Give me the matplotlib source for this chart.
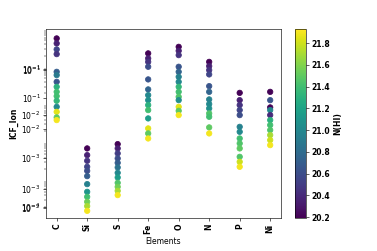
import numpy as np
import matplotlib
matplotlib.use('Agg')
import matplotlib.pyplot as plt
from matplotlib.ticker import FixedLocator, FixedFormatter, LogLocator, NullFormatter

# ── datos ────────────────────────────────────────────────────────────────────
elements = ['C', 'Si', 'S', 'Fe', 'O', 'N', 'P', 'Ni']

icf = {
    'C':  [0.567, 0.419, 0.290, 0.218, 0.0742, 0.0607, 0.0403, 0.0298, 0.0219,
           0.0169, 0.0127, 0.00880, 0.00649, 0.00461, 0.00392],
    'Si': [6.98e-4, 4.64e-4, 3.28e-4, 2.28e-4, 1.78e-4, 1.29e-4, 7.93e-5, 4.96e-5,
           3.66e-5, 2.70e-5, 2.08e-5, 1.56e-5],
    'S':  [9.07e-4, 6.98e-4, 5.15e-4, 3.79e-4, 2.90e-4, 2.19e-4, 1.58e-4, 1.19e-4,
           8.59e-5, 6.73e-5, 5.27e-5, 4.06e-5],
    'Fe': [0.228, 0.168, 0.136, 0.101, 0.0467, 0.0254, 0.0179, 0.0132, 0.00976,
           0.00720, 0.00434, 0.00236, 0.00174, 0.00128],
    'O':  [0.340, 0.267, 0.205, 0.101, 0.0742, 0.0547, 0.0403, 0.0298, 0.0219,
           0.0162, 0.0132, 0.00880, 0.00690, 0.00531],
    'N':  [0.136, 0.105, 0.0823, 0.0633, 0.0310, 0.0219, 0.0138, 0.0104, 0.00798,
           0.00589, 0.00479, 0.00251, 0.00174],
    'P':  [0.0206, 0.0132, 0.00976, 0.00720, 0.00531, 0.00260, 0.00192, 0.00128,
           9.46e-4, 6.98e-4, 4.19e-4, 3.09e-4, 2.28e-4],
    'Ni': [0.0219, 0.0132, 0.00849, 0.00720, 0.00531, 0.00392, 0.00289, 0.00213,
           0.00157, 0.00116, 8.53e-4],
}

nhi = {
    'C':  [20.2, 20.35, 20.55, 20.45, 20.7, 20.9, 20.65, 21.3, 21.4, 21.4, 21.35,
           21.0, 21.85, 21.5, 21.9],
    'Si': [20.2, 20.35, 20.45, 20.55, 20.6, 20.7, 20.95, 21.1, 21.4, 21.55, 21.7, 21.9],
    'S':  [20.2, 20.35, 20.5, 20.6, 20.7, 20.85, 21.0, 21.15, 21.45, 21.55, 21.7, 21.9],
    'Fe': [20.2, 20.35, 20.45, 20.6, 20.65, 20.75, 21.0, 21.05, 21.3, 21.4, 21.15,
           21.85, 21.5, 21.9],
    'O':  [20.2, 20.35, 20.45, 20.65, 20.75, 20.95, 21.0, 21.35, 21.4, 21.45, 21.05,
           21.85, 21.5, 21.9],
    'N':  [20.2, 20.35, 20.45, 20.55, 20.65, 20.75, 20.95, 21.0, 21.05, 21.45, 21.4,
           21.5, 21.9],
    'P':  [20.2, 20.35, 20.45, 20.55, 20.6, 20.95, 21.0, 21.4, 21.45, 21.5, 21.45,
           21.8, 21.9],
    'Ni': [20.2, 20.65, 20.2, 21.0, 20.4, 21.3, 21.4, 21.45, 21.7, 21.8, 21.9],
}

# etiquetas del eje y tal como aparecen (solapadas)
ytick_pos = [10**-1.045, 10**-1.07, 10**-1.825, 10**-2.275, 10**-2.646,
             10**-3.413, 10**-4.233, 10**-4.70, 10**-4.72]
ytick_lab = [r'$10^{-1}$', r'$10^{-1}$', r'$10^{-1}$', r'$10^{-2}$', r'$10^{-2}$',
             r'$10^{-3}$', r'$10^{-3}$', r'$10^{-4}$', r'$10^{-2}$']

cb_ticks = [20.2, 20.4, 20.6, 20.8, 21.0, 21.2, 21.4, 21.6, 21.8]

# ─────────────────────────────────────────────────────────────────────────────

fig = plt.figure(figsize=(377 / 55, 251 / 55), dpi=55)
ax = fig.add_axes([0.122, 0.131, 0.623, 0.753])
cax = fig.add_axes([0.782, 0.131, 0.029, 0.753])

for el in elements:
    sc = ax.scatter([el] * len(icf[el]), icf[el], c=nhi[el], cmap='viridis',
                    vmin=20.19, vmax=21.93, s=50)

ax.set_yscale('log')
ax.set_ylim(1e-5, 1e0)
ax.yaxis.set_major_locator(FixedLocator(ytick_pos))
ax.yaxis.set_major_formatter(FixedFormatter(ytick_lab))
ax.yaxis.set_minor_locator(LogLocator(base=10, subs=np.arange(2, 10)))
ax.yaxis.set_minor_formatter(NullFormatter())

ax.set_xlabel('Elements')
ax.set_ylabel('ICF_Ion', fontweight='bold')
plt.setp(ax.get_xticklabels(), rotation=90, fontweight='bold')

cb = fig.colorbar(sc, cax=cax)
cb.set_ticks(cb_ticks)
cb.set_label('N(HI)', fontweight='bold')
plt.setp(cax.get_yticklabels(), fontweight='bold')

fig.savefig('out.png', dpi=55)
